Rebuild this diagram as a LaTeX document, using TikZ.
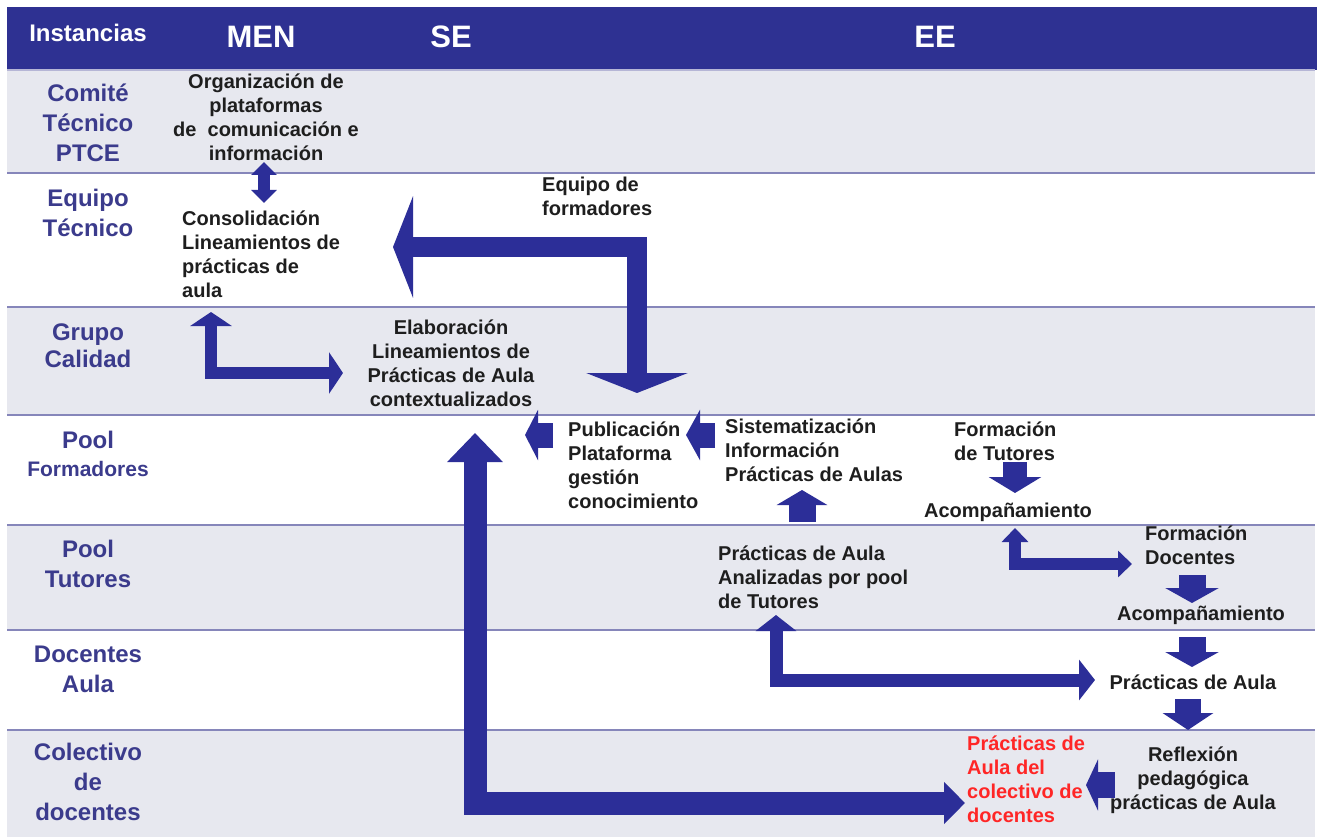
\documentclass[tikz,border=0pt]{standalone}
\usepackage{fontspec}
\setmainfont{Liberation Sans}
\usetikzlibrary{arrows.meta}
\definecolor{azul}{HTML}{2E3192}
\definecolor{azulf}{HTML}{2C2E98}
\definecolor{gris}{HTML}{E7E8EF}
\definecolor{linea}{HTML}{8686BA}
\definecolor{morado}{HTML}{3B3B8C}
\definecolor{rojo}{HTML}{FF2626}
\definecolor{tinta}{HTML}{1E1E1E}

\tikzset{
    cabecera/.style={text=white, inner sep=0pt, font=\bfseries\fontsize{31}{36}\selectfont},
    instancia/.style={text=morado, inner sep=0pt, align=center, font=\bfseries\fontsize{24}{30}\selectfont},
    texto/.style={text=tinta, inner sep=0pt, font=\bfseries\fontsize{20}{24}\selectfont},
    flecha/.style n args={3}{draw=azulf, line width=#1pt, -{Triangle[width=#2pt, length=#3pt]}},
    doble/.style n args={3}{draw=azulf, line width=#1pt, {Triangle[width=#2pt, length=#3pt]}-{Triangle[width=#2pt, length=#3pt]}}
}

\begin{document}
\begin{tikzpicture}[x=1pt, y=-1pt]
    \useasboundingbox (0, 0) rectangle (1317, 837);

    % filas de la tabla
    \foreach \ya / \yb / \c in {70/173/gris, 173/307/white, 307/415/gris, 415/525/white, 525/630/gris, 630/730/white, 730/837/gris}
        \fill[\c] (7, \ya) rectangle (1315, \yb);
    \foreach \y in {173, 307, 415, 525, 630, 730}
        \draw[linea, line width=1.5pt] (7, \y) -- (1315, \y);
    \fill[azul] (7, 7) rectangle (1317, 70);
    \draw[linea!60, line width=1.5pt] (7, 70) -- (1315, 70);

    % cabecera
    \node[cabecera, font=\bfseries\fontsize{24}{28}\selectfont] (inst) at (88, 33) {Instancias};
    \node[cabecera] (men) at (261, 37) {MEN};
    \node[cabecera] (se) at (451, 37) {SE};
    \node[cabecera] (ee) at (935, 37) {EE};

    % instancias
    \node[instancia] (comite) at (88, 123) {Comité\\Técnico\\PTCE};
    \node[instancia] (equipo) at (88, 213) {Equipo\\Técnico};
    \node[instancia] (grupo) at (88, 346) {Grupo\\[-3pt]Calidad};
    \node[instancia] (poolf) at (88, 454) {Pool\\[-2pt]{\fontsize{21}{28}\selectfont Formadores}};
    \node[instancia] (poolt) at (88, 564) {Pool\\Tutores};
    \node[instancia] (docentes) at (88, 669) {Docentes\\Aula};
    \node[instancia] (colectivo) at (88, 782) {Colectivo\\de\\docentes};

    % textos
    \node[texto, align=center] (org) at (266, 117) {Organización de\\plataformas\\de \ comunicación e\\información};
    \node[texto, align=left, anchor=west] (cons) at (182, 254) {Consolidación\\Lineamientos de\\prácticas de\\aula};
    \node[texto, align=left, anchor=west] (formadores) at (542, 196) {Equipo de\\formadores};
    \node[texto, align=center] (elab) at (451, 363) {Elaboración\\Lineamientos de\\Prácticas de Aula\\contextualizados};
    \node[texto, align=left, anchor=west] (publ) at (568, 465) {Publicación\\Plataforma\\gestión\\conocimiento};
    \node[texto, align=left, anchor=west] (sist) at (725, 450) {Sistematización\\Información\\Prácticas de Aulas};
    \node[texto, align=left, anchor=west] (formtut) at (954, 441) {Formación\\de Tutores};
    \node[texto] (acomp1) at (1008, 512) {Acompañamiento};
    \node[texto, align=left, anchor=west] (formdoc) at (1145, 545) {Formación\\Docentes};
    \node[texto] (acomp2) at (1201, 615) {Acompañamiento};
    \node[texto] (practicas) at (1193, 682) {Prácticas de Aula};
    \node[texto, align=center] (reflex) at (1193, 780) {Reflexión\\pedagógica\\prácticas de Aula};
    \node[texto, align=left, anchor=west, text=rojo] (pcolect) at (967, 779) {Prácticas de\\Aula del\\colectivo de\\docentes};
    \node[texto, align=left, anchor=west] (analiz) at (718, 577) {Prácticas de Aula\\Analizadas por pool\\de Tutores};

    % puntos de las flechas
    \foreach \n / \x / \y in {a1/264/162, a2/264/203, b1/393/247, b2/637/393, c1/211/312, c2/343/373,
                              d1/475/433, d2/965/803, e1/553/435, e2/525/435, f1/715/435, f2/686/435,
                              g1/802/522, g2/802/490, h1/1015/462, h2/1015/493, i1/1015/528, i2/1132/564,
                              j1/1192/575, j2/1192/603, k1/1192/637, k2/1192/667, l1/1188/699, l2/1188/730,
                              m1/1115/785, m2/1086/785, n1/776/615, n2/1095/680}
        \coordinate (\n) at (\x, \y);

    % flechas
    \draw[doble={12}{25}{13}] (a1) -- (a2);
    \draw[doble={20}{101}{20}] (b1) -| (b2);
    \draw[doble={12}{41}{14}] (c1) |- (c2);
    \draw[draw=azulf, line width=23pt, {Triangle[width=54pt, length=29pt]}-{Triangle[width=41pt, length=21pt]}] (d1) |- (d2);
    \draw[flecha={25}{50}{13}] (e1) -- (e2);
    \draw[flecha={25}{50}{14}] (f1) -- (f2);
    \draw[flecha={27}{50}{15}] (g1) -- (g2);
    \draw[flecha={24}{52}{16}] (h1) -- (h2);
    \draw[doble={12}{26}{14}] (i1) |- (i2);
    \draw[flecha={27}{53}{15}] (j1) -- (j2);
    \draw[flecha={27}{53}{15}] (k1) -- (k2);
    \draw[flecha={26}{50}{17}] (l1) -- (l2);
    \draw[flecha={26}{51}{12}] (m1) -- (m2);
    \draw[doble={13}{40}{16}] (n1) |- (n2);

\end{tikzpicture}
\end{document}
